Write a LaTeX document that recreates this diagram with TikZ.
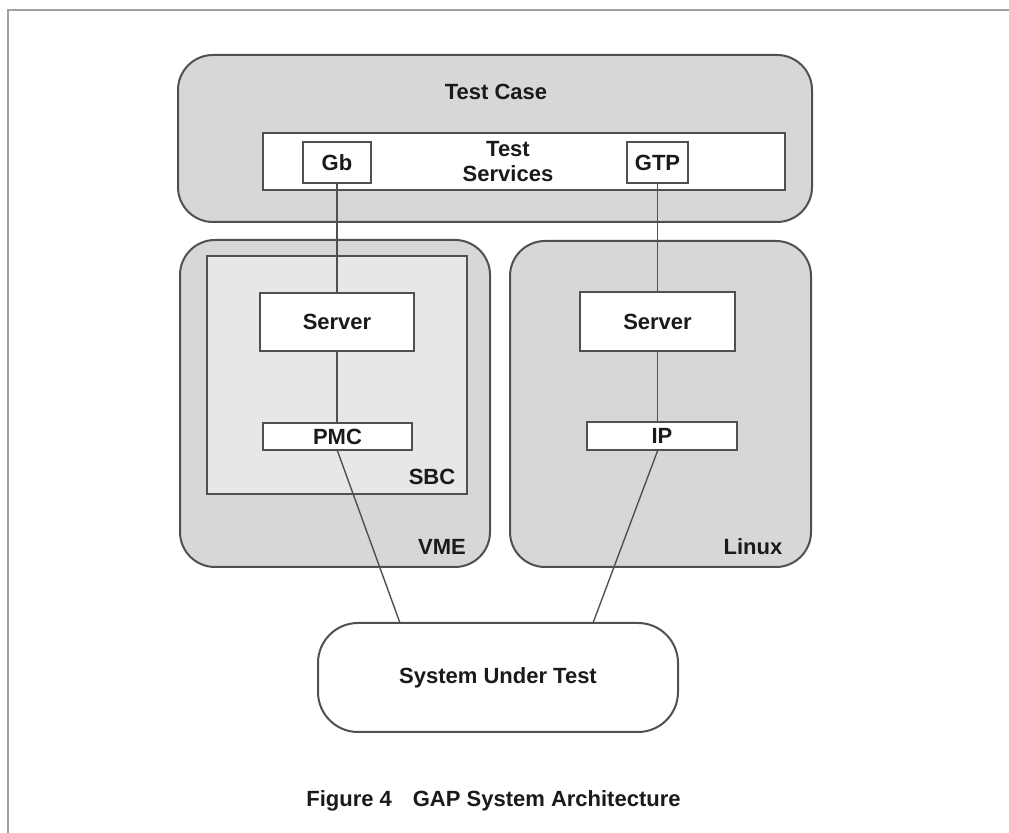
\documentclass[tikz,border=0pt]{standalone}
\usepackage{fontspec}
\setmainfont{Liberation Sans}
\definecolor{edge}{HTML}{505050}
\definecolor{shade}{HTML}{D7D7D7}
\definecolor{shadelight}{HTML}{E7E7E7}
\definecolor{framegray}{HTML}{A0A0A0}
\definecolor{ink}{HTML}{1A1A1A}
\tikzset{
  lbl/.style={font=\fontsize{11}{12.5}\selectfont\bfseries, text=ink, inner sep=0pt},
  sz/.style 2 args={minimum width=#1, minimum height=#2},
  block/.style={draw=edge, line width=1pt, lbl},
  container/.style={block, fill=shade, rounded corners=17.5pt},
  board/.style={block, fill=shadelight},
  whitebox/.style={block, fill=white},
  wire/.style={draw=edge, line width=0.7pt},
}
\begin{document}
\begin{tikzpicture}[x=0.5pt, y=-0.5pt]
  \useasboundingbox (0,0) rectangle (1009,833);
  \fill[white] (0,0) rectangle (1009,833);
  % page frame, open towards the right and bottom
  \draw[framegray, line width=1.4pt] (8,833) -- (8,10) -- (1009,10);

  % test case layer
  \node[container, sz={317pt}{83.5pt}] (tc) at (495,138.5) {};
  \node[lbl] (tclabel) at (496,92) {Test Case};
  \node[whitebox, sz={261pt}{28.5pt}] (ts) at (524,161.5) {};
  \node[lbl, align=center] (tslabel) at (508,162) {Test\\Services};
  \node[whitebox, sz={34pt}{20.5pt}] (gb) at (337,162.5) {Gb};
  \node[whitebox, sz={30.5pt}{20.5pt}] (gtp) at (657.5,162.5) {GTP};

  % VME chassis with single board computer
  \node[container, sz={155pt}{163.5pt}] (vme) at (335,403.5) {};
  \node[board, sz={130pt}{119pt}] (sbc) at (337,375) {};
  \node[whitebox, sz={77pt}{29pt}] (srvL) at (337,322) {Server};
  \node[whitebox, sz={74.5pt}{13.5pt}] (pmc) at (337.5,436.5) {PMC};
  \node[lbl] (sbclabel) at (432,477) {SBC};
  \node[lbl] (vmelabel) at (442,547) {VME};

  % Linux host
  \node[container, sz={150.5pt}{163pt}] (linux) at (660.5,404) {};
  \node[whitebox, sz={77.5pt}{29.5pt}] (srvR) at (657.5,321.5) {Server};
  \node[whitebox, sz={75pt}{14pt}] (ip) at (662,436) {IP};
  \node[lbl] (linuxlabel) at (753,547) {Linux};

  % system under test
  \node[block, fill=white, rounded corners=20pt, sz={180pt}{54.5pt}] (sut) at (498,677.5) {System Under Test};
  \coordinate (sutL) at (400,623);
  \coordinate (sutR) at (593,623);

  % connections
  \draw[wire] (gb.south) -- (gb.south |- srvL.north);
  \draw[wire] (srvL.south) -- (srvL.south |- pmc.north);
  \draw[wire] (pmc.south) -- (sutL);
  \draw[wire] (gtp.south) -- (gtp.south |- srvR.north);
  \draw[wire] (srvR.south) -- (srvR.south |- ip.north);
  \draw[wire] (ip.south -| gtp.south) -- (sutR);

  % caption
  \node[lbl] (caption) at (493.5,801) {Figure 4\hspace{0.95em}GAP System Architecture};
\end{tikzpicture}
\end{document}
